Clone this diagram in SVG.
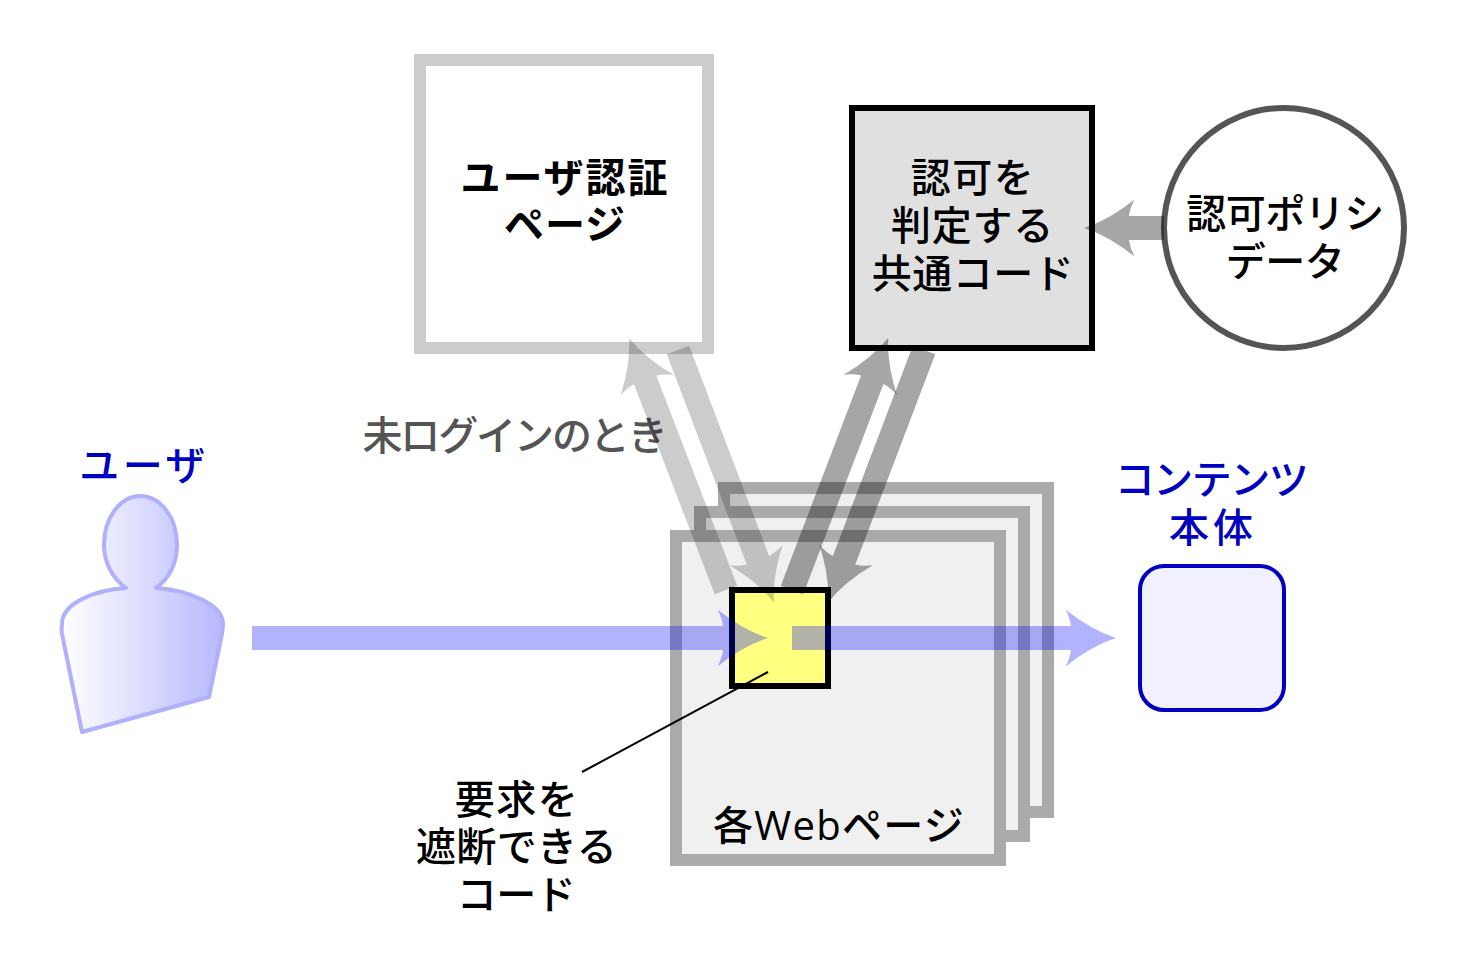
<svg xmlns="http://www.w3.org/2000/svg" width="1464" height="960" viewBox="0 0 1464 960">
<style>
text{font-family:"Open Sans","Noto Sans CJK JP",sans-serif;font-size:40px;text-anchor:middle;fill:#000;font-weight:500}
.strong{font-weight:700}
.blue{fill:#0000c0}
.grey{fill:#555}
.page{fill:#f0f0f0;stroke:#aaa;stroke-width:12}
.light{fill:#000;fill-opacity:.2}
.dark{fill:#000;fill-opacity:.35}
.flow{fill:#00f;fill-opacity:.3}
</style>
<defs>
<linearGradient id="body" gradientUnits="userSpaceOnUse" x1="62" y1="0" x2="223" y2="0">
<stop offset="0" stop-color="#fff"/><stop offset="1" stop-color="#b8b8ff"/>
</linearGradient>
</defs>
<g id="auth-page">
<rect x="420" y="60" width="288" height="288" fill="#fff" stroke="#ccc" stroke-width="12"/>
<text class="strong" x="565" y="192" letter-spacing="2">ユーザ認証</text>
<text class="strong" x="565" y="239" letter-spacing="1">ページ</text>
</g>
<g id="authz-code">
<rect x="852" y="108" width="240" height="240" fill="#e0e0e0" stroke="#000" stroke-width="6"/>
<text x="973" y="192" letter-spacing="1.500">認可を</text>
<text x="972.500" y="240" letter-spacing=".7">判定する</text>
<text x="973" y="288" letter-spacing=".5">共通コード</text>
</g>
<g id="policy-data">
<circle cx="1284" cy="228" r="120" fill="#fff" stroke="#555" stroke-width="6"/>
<text x="1285" y="228" letter-spacing="-.5">認可ポリシ</text>
<text x="1285" y="276" letter-spacing="-.5">データ</text>
</g>
<g id="web-pages">
<rect class="page" x="724" y="488" width="324" height="324"/>
<rect class="page" x="700" y="512" width="324" height="324"/>
<rect class="page" x="676" y="536" width="324" height="324"/>
<text x="839" y="840" letter-spacing="1.300">各Webページ</text>
</g>
<g id="blocking-code">
<rect x="732" y="590" width="96" height="96" fill="#ffff80" stroke="#000" stroke-width="6"/>
</g>
<g id="content">
<rect x="1140" y="566" width="144" height="144" rx="24" fill="#f0f0ff" stroke="#0000c0" stroke-width="4"/>
<text class="blue" x="1211" y="494" letter-spacing="-1.500">コンテンツ</text>
<text class="blue" x="1213" y="542" letter-spacing="4">本体</text>
</g>
<g id="user">
<path d="M126,588C112,578 104,562 104,545C104,517 121,496 140,496C160,496 177,517 177,545C177,562 170,578 156,588C185,590 223,603 223,624C223,628 222,632 222,634L209,697L82,732L62,634C61,630 62,626 62,624C62,603 95,590 126,588Z" fill="url(#body)" stroke="#b0b0ff" stroke-width="4" stroke-linejoin="round"/>
<text class="blue" x="144" y="480" letter-spacing="3.500">ユーザ</text>
</g>
<g id="labels">
<text class="grey" x="514" y="450" letter-spacing="-2.100">未ログインのとき</text>
<text x="517" y="814" letter-spacing="1.500">要求を</text>
<text x="516.500" y="861" letter-spacing=".4">遮断できる</text>
<text x="516" y="909" letter-spacing="-.5">コード</text>
</g>
<g id="connectors">
<path class="flow" transform="translate(252,638)" d="M0,-12L471,-12Q470,-20 465.500,-28.500Q491,-8 516,0Q491,8 465.500,28.500Q470,20 471,12L0,12Z"/>
<path class="flow" transform="translate(792,638)" d="M0,-12L279,-12Q278,-20 273.500,-28.500Q299,-8 324,0Q299,8 273.500,28.500Q278,20 279,12L0,12Z"/>
<path class="light" transform="translate(726,590) rotate(-111.05)" d="M0,-12L225,-12Q224,-20 219.500,-28.500Q245,-8 270,0Q245,8 219.500,28.500Q224,20 225,12L0,12Z"/>
<path class="light" transform="translate(678,350) rotate(69.2)" d="M0,-12L225,-12Q224,-20 219.500,-28.500Q245,-8 270,0Q245,8 219.500,28.500Q224,20 225,12L0,12Z"/>
<path class="dark" transform="translate(792,590) rotate(-69.1)" d="M0,-12L225,-12Q224,-20 219.500,-28.500Q245,-8 270,0Q245,8 219.500,28.500Q224,20 225,12L0,12Z"/>
<path class="dark" transform="translate(924,350) rotate(110.8)" d="M0,-12L225,-12Q224,-20 219.500,-28.500Q245,-8 270,0Q245,8 219.500,28.500Q224,20 225,12L0,12Z"/>
<path class="dark" transform="translate(1164,228) rotate(180)" d="M0,-12L35,-12Q34,-20 29.500,-28.500Q55,-8 80,0Q55,8 29.500,28.500Q34,20 35,12L0,12Z"/>
<line x1="768" y1="672" x2="582" y2="772" stroke="#000" stroke-width="2"/>
</g>
</svg>
